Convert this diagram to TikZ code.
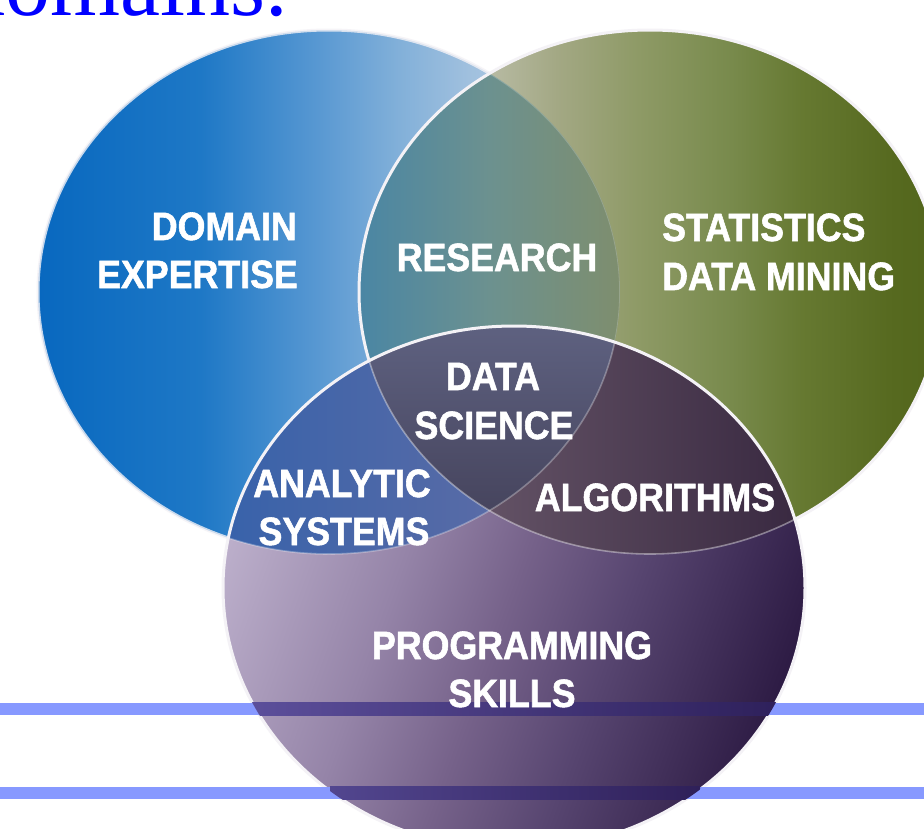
\documentclass[tikz,border=0pt]{standalone}
\usepackage{fontspec}
\setmainfont{Liberation Serif}
\newfontfamily\labfont[FakeStretch=0.905,BoldFeatures={FakeBold=1.4}]{Liberation Sans}

% general colours
\definecolor{titleblue}{RGB}{0,0,255}
\definecolor{bandout}{RGB}{135,153,255}
\definecolor{outl}{RGB}{244,242,246}

% domain expertise (blue)
\definecolor{b1}{RGB}{8,104,191}
\definecolor{b2}{RGB}{30,120,198}
\definecolor{b3}{RGB}{88,152,210}
\definecolor{b4}{RGB}{130,176,217}
\definecolor{b5}{RGB}{160,192,222}
\definecolor{b6}{RGB}{196,216,234}
% statistics (olive)
\definecolor{g1}{RGB}{205,207,190}
\definecolor{g2}{RGB}{184,187,164}
\definecolor{g3}{RGB}{163,168,132}
\definecolor{g4}{RGB}{142,154,102}
\definecolor{g5}{RGB}{120,138,76}
\definecolor{g6}{RGB}{102,121,49}
\definecolor{g7}{RGB}{86,105,31}
\definecolor{g8}{RGB}{82,102,28}
% research
\definecolor{r1}{RGB}{74,134,164}
\definecolor{r2}{RGB}{108,145,143}
\definecolor{r3}{RGB}{126,142,110}
% programming skills (purple)
\definecolor{p1}{RGB}{187,174,202}
\definecolor{p2}{RGB}{149,132,168}
\definecolor{p3}{RGB}{118,98,138}
\definecolor{p4}{RGB}{87,69,112}
\definecolor{p5}{RGB}{46,28,69}
% overlaps inside the purple set
\definecolor{anL}{RGB}{56,98,170}
\definecolor{anR}{RGB}{92,108,166}
\definecolor{alL}{RGB}{100,83,102}
\definecolor{alR}{RGB}{56,40,64}
\definecolor{dsT}{RGB}{94,97,128}
\definecolor{dsB}{RGB}{69,67,92}
% rules where they cross the purple set
\definecolor{k1L}{RGB}{94,81,158}
\definecolor{k1R}{RGB}{44,30,88}
\definecolor{k2L}{RGB}{82,70,143}
\definecolor{k2R}{RGB}{47,32,89}

\pgfdeclarehorizontalshading{blueshade}{100bp}{%
  color(0bp)=(b1); color(25bp)=(b1); color(39bp)=(b2); color(49bp)=(b3);
  color(56bp)=(b4); color(62bp)=(b5); color(75bp)=(b6); color(100bp)=(b6)}
\pgfdeclarehorizontalshading{greenshade}{100bp}{%
  color(0bp)=(g1); color(25bp)=(g1); color(36bp)=(g2); color(42bp)=(g3);
  color(49bp)=(g4); color(57bp)=(g5); color(63bp)=(g6); color(71bp)=(g7);
  color(75bp)=(g8); color(100bp)=(g8)}
\pgfdeclarehorizontalshading{resshade}{100bp}{%
  color(0bp)=(r1); color(25bp)=(r1); color(50bp)=(r2); color(75bp)=(r3);
  color(100bp)=(r3)}
\pgfdeclarehorizontalshading{purpshade}{100bp}{%
  color(0bp)=(p1); color(25bp)=(p1); color(40bp)=(p2); color(50bp)=(p3);
  color(60bp)=(p4); color(75bp)=(p5); color(100bp)=(p5)}

\begin{document}
\begin{tikzpicture}[x=1pt,y=-1pt,
  outline/.style={draw=outl,line width=3pt},
  innerline/.style={draw=white,opacity=0.3,line width=1.6pt},
  band/.style={draw=bandout,line width=12.5pt},
  lab/.style={text=white,inner sep=0pt,
    font=\labfont\bfseries\fontsize{39.5}{39.5}\selectfont}]
\def\RX{291pt}
\def\RY{262pt}
\useasboundingbox (0,0) rectangle (924,828);
\fill[white] (0,0) rectangle (924,828);

% heading, cut by the top of the slide
\node[anchor=base west,inner sep=0pt,text=titleblue,
  font=\fontsize{90}{90}\selectfont] (title) at (-40,15) {domains.};

% centres of the three sets
\coordinate (cB) at (329,292);
\coordinate (cG) at (650,292);
\coordinate (cP) at (514,588);

% domain expertise
\shade[shading=blueshade] (cB) ellipse [x radius=\RX, y radius=\RY];
\draw[outline,draw opacity=0.8] (cB) ellipse [x radius=\RX, y radius=\RY];

% statistics / data mining
\shade[shading=greenshade] (cG) ellipse [x radius=\RX, y radius=\RY];
\begin{scope}
  \clip (cB) ellipse [x radius=\RX, y radius=\RY];
  \clip (cG) ellipse [x radius=\RX, y radius=\RY];
  \shade[shading=resshade] (359,20) rectangle (620,560);
  \draw[innerline,opacity=0.2] (cB) ellipse [x radius=\RX, y radius=\RY];
\end{scope}
\draw[outline] (cG) ellipse [x radius=\RX, y radius=\RY];

% programming skills
\shade[shading=purpshade,shading angle=-20] (cP) ellipse [x radius=\RX, y radius=\RY];
\begin{scope}
  \clip (cP) ellipse [x radius=\RX, y radius=\RY];
  \begin{scope}
    \clip (cB) ellipse [x radius=\RX, y radius=\RY];
    \shade[left color=anL,right color=anR] (223,326) rectangle (520,560);
  \end{scope}
  \begin{scope}
    \clip (cG) ellipse [x radius=\RX, y radius=\RY];
    \shade[left color=alL,right color=alR] (480,326) rectangle (805,560);
  \end{scope}
  \begin{scope}
    \clip (cB) ellipse [x radius=\RX, y radius=\RY];
    \clip (cG) ellipse [x radius=\RX, y radius=\RY];
    \shade[top color=dsT,bottom color=dsB] (359,326) rectangle (620,520);
  \end{scope}
  \draw[innerline] (cB) ellipse [x radius=\RX, y radius=\RY];
  \draw[innerline,opacity=0.4] (cG) ellipse [x radius=\RX, y radius=\RY];
\end{scope}
\draw[outline] (cP) ellipse [x radius=\RX, y radius=\RY];

% two rules across the slide
\coordinate (r1a) at (0,709);   \coordinate (r1b) at (924,709);
\coordinate (r2a) at (0,793);   \coordinate (r2b) at (924,793);
\draw[band] (r1a) -- (r1b);
\draw[band] (r2a) -- (r2b);
\begin{scope}
  \clip (cP) ellipse [x radius=\RX, y radius=\RY];
  \shade[left color=k1L,right color=k1R] (223,702.75) rectangle (805,715.25);
  \shade[left color=k2L,right color=k2R] (330,786.75) rectangle (700,799.25);
\end{scope}

% labels
\node[lab,anchor=base east] (dom1) at (297,240) {DOMAIN};
\node[lab,anchor=base east] (dom2) at (298,288) {EXPERTISE};
\node[lab,anchor=base] (res) at (497,271) {RESEARCH};
\node[lab,anchor=base west] (sta1) at (662,241) {STATISTICS};
\node[lab,anchor=base west] (sta2) at (662,290) {DATA MINING};
\node[lab,anchor=base] (ds1) at (493,390) {DATA};
\node[lab,anchor=base] (ds2) at (494,439) {SCIENCE};
\node[lab,anchor=base] (an1) at (342,497) {ANALYTIC};
\node[lab,anchor=base] (an2) at (344,545) {SYSTEMS};
\node[lab,anchor=base] (alg) at (655,511) {ALGORITHMS};
\node[lab,anchor=base] (pr1) at (512,659) {PROGRAMMING};
\node[lab,anchor=base] (pr2) at (512,707) {SKILLS};
\end{tikzpicture}
\end{document}
